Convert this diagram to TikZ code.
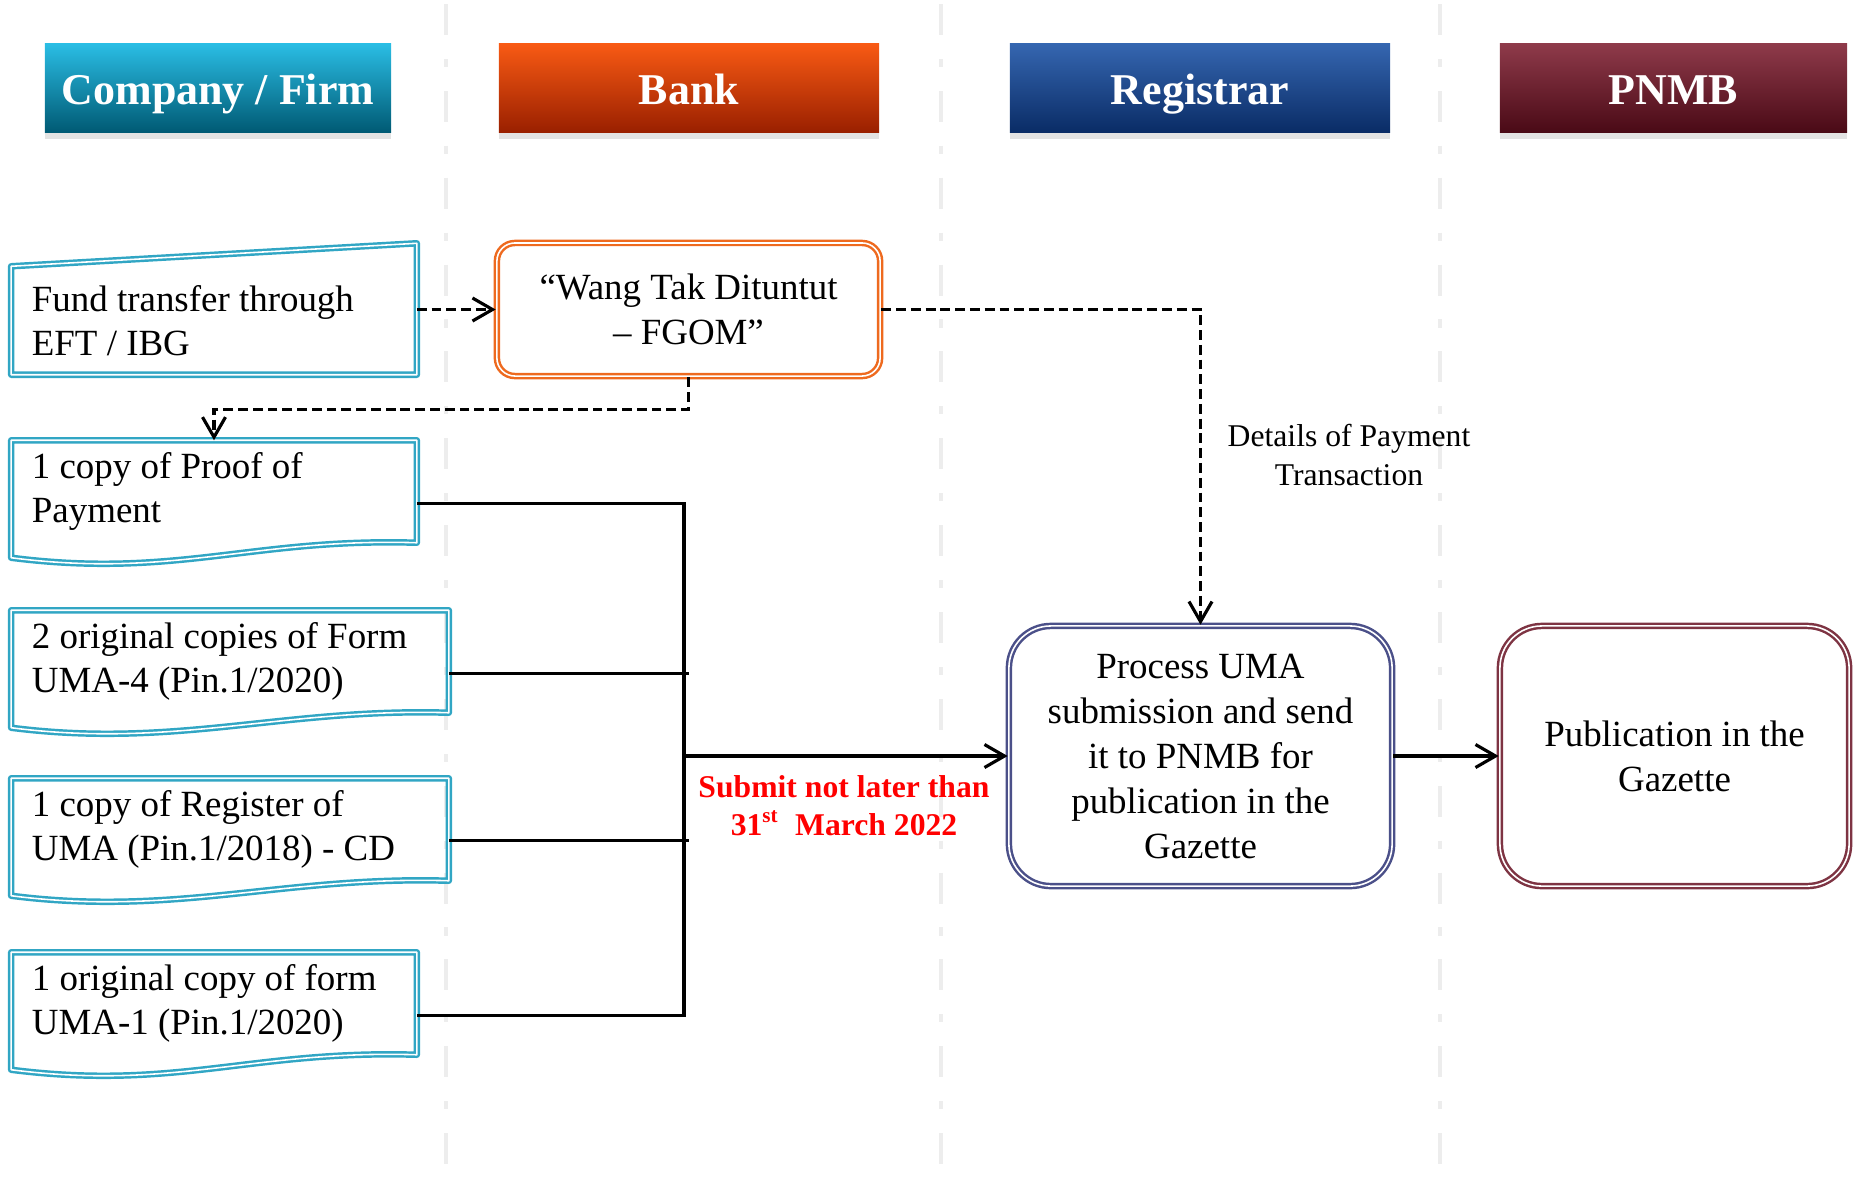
\documentclass[tikz,border=0pt]{standalone}
\usepackage{fontspec}
\setmainfont{Liberation Serif}
\usetikzlibrary{calc,positioning,shapes,arrows,arrows.meta,shadows}

\definecolor{laneline}{HTML}{EDEDED}
\definecolor{docteal}{HTML}{31A6C4}
\definecolor{wangorange}{HTML}{EE6A1F}
\definecolor{regnavy}{HTML}{4B5089}
\definecolor{pnmbred}{HTML}{7E3443}
\definecolor{compTop}{HTML}{2ABDE4}
\definecolor{compBot}{HTML}{005A74}
\definecolor{bankTop}{HTML}{F85A14}
\definecolor{bankBot}{HTML}{9A2000}
\definecolor{regTop}{HTML}{3566B0}
\definecolor{regBot}{HTML}{0A2C66}
\definecolor{pnmbTop}{HTML}{8E3A4A}
\definecolor{pnmbBot}{HTML}{4A0A16}

\tikzset{
  header/.style={rectangle, minimum height=0.88cm, text=white,
    text height=10.8pt, text depth=1.2pt,
    font=\fontsize{12.5}{15}\selectfont\bfseries,
    drop shadow={shadow xshift=0pt, shadow yshift=-0.07cm, opacity=0.22}},
  docnode/.style={rectangle, inner xsep=0.2cm, inner ysep=0pt, align=flush left,
    minimum height=1.01cm, font=\fontsize{10.5}{12.5}\selectfont},
  docline/.style={draw=docteal, line width=0.7pt, double=white,
    double distance=0.45pt, line join=round},
  roundbox/.style={rectangle, line width=0.7pt, double=white,
    double distance=0.45pt, align=center, font=\fontsize{10.5}{12.8}\selectfont},
  link/.style={line width=0.9pt},
  dashlink/.style={line width=0.9pt, dash pattern=on 2.8pt off 1.4pt},
  lane/.style={laneline, line width=1.2pt,
    dash pattern=on 8.8pt off 6.8pt on 2.3pt off 6.8pt},
  >={Straight Barb[length=2mm,width=2.3mm]}
}

% outline of a document shape with a wavy foot
\newcommand{\docwave}[1]{%
  \draw[docline] (#1.north west) -- (#1.north east) -- (#1.south east)
    .. controls +(-165,-5) and +(165,21) .. ($(#1.south west)+(0,15)$) -- cycle;}

\begin{document}
\begin{tikzpicture}[x=0.01cm,y=-0.01cm]
\useasboundingbox (0,0) rectangle (1864,1181);

% swim lanes
\foreach \lx in {446,941,1440}
  \draw[lane] (\lx,4) -- (\lx,1181);

% lane headers
\node (hcompany) at (218,88) [header, minimum width=3.46cm,
  top color=compTop, bottom color=compBot] {Company / Firm};
\node (hbank) at (689,88) [header, minimum width=3.80cm,
  top color=bankTop, bottom color=bankBot] {Bank};
\node (hregistrar) at (1200,88) [header, minimum width=3.80cm,
  top color=regTop, bottom color=regBot] {Registrar};
\node (hpnmb) at (1673.5,88) [header, minimum width=3.47cm,
  top color=pnmbTop, bottom color=pnmbBot] {PNMB};

% company documents
\node (fund) at (214,320.5) [docnode, minimum height=1.07cm, text width=3.64cm]
  {Fund transfer through\\ EFT / IBG};
\draw[docline] (fund.south west) -- (fund.north west)
  -- ($(fund.north east)+(0,-23)$) -- (fund.south east) -- cycle;

\node (proof) at (214,491.5) [docnode, text width=3.64cm]
  {1 copy of Proof of\\ Payment};
\docwave{proof}

\node (uma4) at (230,661.5) [docnode, text width=3.96cm]
  {2 original copies of Form\\ UMA-4 (Pin.1/2020)};
\docwave{uma4}

\node (register) at (230,829.5) [docnode, text width=3.96cm]
  {1 copy of Register of\\ UMA (Pin.1/2018) - CD};
\docwave{register}

\node (uma1) at (214,1003.5) [docnode, text width=3.64cm]
  {1 original copy of form\\ UMA-1 (Pin.1/2020)};
\docwave{uma1}

% process boxes
\node (wang) at (688.5,309.5) [roundbox, draw=wangorange, minimum width=3.83cm,
  minimum height=1.33cm, rounded corners=0.18cm]
  {“Wang Tak Dituntut\\ – FGOM”};
\node (process) at (1200.5,756) [roundbox, draw=regnavy, minimum width=3.83cm,
  minimum height=2.60cm, rounded corners=0.42cm]
  {Process UMA\\ submission and send\\ it to PNMB for\\ publication in the\\ Gazette};
\node (publication) at (1674.5,756) [roundbox, draw=pnmbred, minimum width=3.49cm,
  minimum height=2.60cm, rounded corners=0.42cm]
  {Publication in the\\ Gazette};

% payment flow
\draw[dashlink,->] (fund.east |- wang.west) -- (wang.west);
\draw[dashlink,->] (wang.south) -- ++(0,32) -| (proof.north);
\draw[dashlink,->] (wang.east) -| (process.north);
\node (details) at (1349,455) [align=center, font=\fontsize{9}{11}\selectfont]
  {Details of Payment\\ Transaction};

% submission
\coordinate (bus) at (684,756);
\draw[link] ([yshift=-0.12cm]proof.east) -| (bus) |- ([yshift=-0.12cm]uma1.east);
\draw[link] ([yshift=-0.12cm]uma4.east) -- ++(240,0);
\draw[link] ([yshift=-0.11cm]register.east) -- ++(240,0);
\draw[link,->] (bus) -- (process.west);
\node (deadline) at (844,806) [align=center, text=red,
  font=\fontsize{9}{10.8}\selectfont\bfseries]
  {Submit not later than\\ 31\textsuperscript{st}\ \ March 2022};

\draw[link,->] (process.east) -- (publication.west);
\end{tikzpicture}
\end{document}
